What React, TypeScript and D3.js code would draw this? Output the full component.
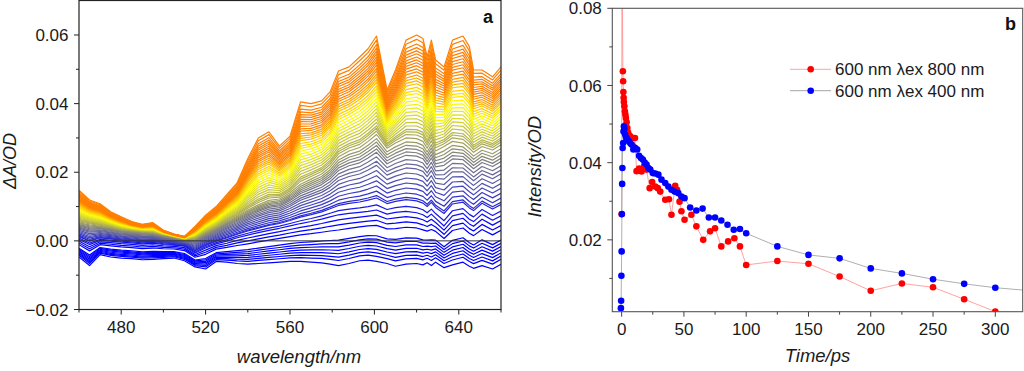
import React from 'react';
import * as d3 from 'd3';

// ---- panel a: transient spectra ----
const wavelengths = [460, 465, 470, 475, 480, 485, 490, 495, 500, 505, 510, 515, 520, 525, 530, 535, 540, 545, 550, 555, 560, 565, 570, 575, 579, 583, 588, 593, 597, 601, 606, 610, 615, 620, 623, 625, 627, 629, 633, 637, 642, 645, 647, 651, 656, 660];

// representative spectra (top orange, gray, blue, bottom blue)
const specOrange = [0.0148, 0.0119, 0.0108, 0.0085, 0.0070, 0.0056, 0.0048, 0.0053, 0.0031, 0.0020, 0.0013, 0.0042, 0.0075, 0.0100, 0.0135, 0.0170, 0.0240, 0.0300, 0.0318, 0.0276, 0.0305, 0.0405, 0.0400, 0.0408, 0.0434, 0.0495, 0.0507, 0.0536, 0.0560, 0.0597, 0.0440, 0.0498, 0.0585, 0.0600, 0.0590, 0.0536, 0.0585, 0.0527, 0.0507, 0.0585, 0.0597, 0.0566, 0.0498, 0.0498, 0.0478, 0.0507];
const specGray = [0.0055, 0.0050, 0.0045, 0.0040, 0.0033, 0.0030, 0.0027, 0.0025, 0.0018, 0.0012, 0.0005, 0.0008, 0.0025, 0.0040, 0.0058, 0.0072, 0.0090, 0.0105, 0.0118, 0.0122, 0.0140, 0.0165, 0.0180, 0.0195, 0.0215, 0.0245, 0.0262, 0.0272, 0.0290, 0.0310, 0.0270, 0.0285, 0.0300, 0.0298, 0.0290, 0.0270, 0.0292, 0.0262, 0.0275, 0.0290, 0.0285, 0.0270, 0.0258, 0.0275, 0.0265, 0.0280];
const specBlue = [0.0005, -0.0010, 0.0002, 0.0000, -0.0003, -0.0005, -0.0008, -0.0006, -0.0010, -0.0012, -0.0015, -0.0035, -0.0020, -0.0008, 0.0000, 0.0010, 0.0018, 0.0025, 0.0032, 0.0038, 0.0045, 0.0052, 0.0058, 0.0065, 0.0072, 0.0078, 0.0082, 0.0085, 0.0088, 0.0092, 0.0080, 0.0085, 0.0088, 0.0084, 0.0078, 0.0070, 0.0080, 0.0068, 0.0045, 0.0075, 0.0082, 0.0065, 0.0058, 0.0080, 0.0062, 0.0075];
const specNeg = [-0.0047, -0.0072, -0.0040, -0.0047, -0.0050, -0.0052, -0.0055, -0.0054, -0.0052, -0.0050, -0.0058, -0.0076, -0.0082, -0.0060, -0.0062, -0.0066, -0.0068, -0.0066, -0.0064, -0.0062, -0.0060, -0.0060, -0.0062, -0.0064, -0.0068, -0.0072, -0.0066, -0.0058, -0.0056, -0.0060, -0.0066, -0.0074, -0.0068, -0.0066, -0.0070, -0.0064, -0.0072, -0.0062, -0.0078, -0.0070, -0.0062, -0.0074, -0.0080, -0.0072, -0.0082, -0.0068];

// value of each recorded spectrum at 601 nm
const levels601 = [
  0.0597, 0.0585, 0.0572, 0.0562, 0.0553, 0.0545, 0.0536, 0.0528, 0.0520, 0.0512, 0.0503,
  0.0495, 0.0486, 0.0478, 0.0470,
  0.0462, 0.0452, 0.0443, 0.0435, 0.0425, 0.0415, 0.0405, 0.0395, 0.0385, 0.0375,
  0.0365, 0.0355, 0.0345, 0.0335, 0.0328,
  0.0320, 0.0310, 0.0298, 0.0288, 0.0278, 0.0268, 0.0258,
  0.0245, 0.0232, 0.0220, 0.0205, 0.0190, 0.0175, 0.0160, 0.0145, 0.0132,
  0.0125, 0.0105, 0.0090, 0.0075, 0.0060, 0.0045,
  0.0015, 0.0005, -0.0005, -0.0015, -0.0025, -0.0035, -0.0045, -0.0060,
];

const aXTicks = [480, 520, 560, 600, 640];
const aXMinor = [460, 500, 540, 580, 620, 660];
const aYTicks = [-0.02, 0, 0.02, 0.04, 0.06];
const aYMinor = [-0.01, 0.01, 0.03, 0.05];

// ---- panel b: kinetics at 600 nm ----
const redTime = [0, 0.3, 1.0, 1.2, 1.4, 1.6, 1.8, 2.2, 2.6, 3.0, 3.4, 4.0, 4.6, 5.2, 6, 7, 8, 9.5, 10.7, 12, 14, 16, 18, 20, 22.5, 24.5, 27, 29, 31, 35, 38, 40, 43, 44.5, 46.5, 48, 50.5, 56, 60, 65.5, 71, 75, 80, 85.5, 90.5, 95, 100, 125, 150, 175, 200, 225, 250, 275, 300];
const redOD = [0.0266, 0.095, 0.0637, 0.0611, 0.0583, 0.0568, 0.0557, 0.0546, 0.0533, 0.0525, 0.0516, 0.0505, 0.049, 0.0478, 0.047, 0.0468, 0.0464, 0.0442, 0.0464, 0.0378, 0.0385, 0.0377, 0.039, 0.0382, 0.0334, 0.035, 0.0338, 0.0334, 0.0325, 0.0304, 0.0305, 0.0265, 0.034, 0.033, 0.0299, 0.0274, 0.0252, 0.0265, 0.0235, 0.02, 0.0222, 0.023, 0.0183, 0.0196, 0.0204, 0.0183, 0.0135, 0.0145, 0.0138, 0.0105, 0.0068, 0.0087, 0.0077, 0.0046, 0.0014];
const blueTime = [-0.6, -0.4, -0.2, 0, 0.2, 0.4, 0.6, 0.8, 1.2, 1.5, 1.8, 2.2, 2.8, 3.5, 4.2, 5, 6, 7, 8, 9.4, 11, 12.5, 14, 15.5, 17, 18.5, 20, 21.5, 23, 25, 27, 29.5, 32, 35, 37.5, 40, 42.5, 45.5, 48, 50.5, 55, 60, 65, 70, 75, 80, 85, 90, 95, 100, 125, 150, 175, 200, 225, 250, 275, 300, 325];
const blueOD = [0.0023, 0.0042, 0.0107, 0.017, 0.0267, 0.0345, 0.0386, 0.0438, 0.0451, 0.0481, 0.0494, 0.0488, 0.0473, 0.0466, 0.0462, 0.0458, 0.0455, 0.045, 0.0447, 0.0434, 0.0438, 0.0434, 0.0418, 0.0412, 0.0408, 0.04, 0.0395, 0.0386, 0.0382, 0.0373, 0.0372, 0.0369, 0.0356, 0.0347, 0.0338, 0.033, 0.0325, 0.0321, 0.0312, 0.0308, 0.0284, 0.0276, 0.0281, 0.0258, 0.0258, 0.025, 0.0239, 0.0226, 0.0228, 0.0217, 0.0183, 0.0161, 0.0152, 0.0126, 0.0113, 0.0098, 0.0086, 0.0076, 0.0069];

const bXTicks = [0, 50, 100, 150, 200, 250, 300];
const bXMinor = [25, 75, 125, 175, 225, 275];
const bYTicks = [0.02, 0.04, 0.06, 0.08];
const bYMinor = [0.01, 0.03, 0.05, 0.07];

const legendItems = [
  { label: '600 nm \u03bbex 800 nm', dot: '#ff0000', line: '#ff9a9a' },
  { label: '600 nm \u03bbex 400 nm', dot: '#0000ff', line: '#9a9a9a' },
];

const FONT = "'Liberation Sans', Arial, sans-serif";

const A = { left: 79, right: 501, top: 0, bottom: 309.5 };
const B = { left: 612.3, right: 1022.7, top: 8.3, bottom: 311.7 };

const i601 = wavelengths.indexOf(601);
const templates = [specNeg, specBlue, specGray, specOrange].map(v => ({ v, ref: v[i601] }));

function blend(level: number): number[] {
  let k = 0;
  while (k < templates.length - 2 && level > templates[k + 1].ref) k++;
  const a = templates[k], b = templates[k + 1];
  const f = (level - a.ref) / (b.ref - a.ref);
  return a.v.map((val, i) => val + (b.v[i] - val) * f);
}

const App: React.FC = () => {
  const ax = d3.scaleLinear().domain([460, 660]).range([A.left, A.right]);
  const ay = d3.scaleLinear().domain([-0.02, 0.0702]).range([A.bottom, A.top]);
  const bx = d3.scaleLinear().domain([-7.5, 322]).range([B.left, B.right]);
  const by = d3.scaleLinear().domain([0.00138, 0.08]).range([B.bottom, B.top]);

  const color = d3.scaleLinear<string>()
    .domain([0.0065, 0.027, 0.042, 0.0505])
    .range(['#0000ff', '#808080', '#ffff00', '#ff7f00'])
    .clamp(true);

  const specLine = d3.line<number>().x((_, i) => ax(wavelengths[i])).y(d => ay(d));
  const spectra = [...levels601].sort((p, q) => p - q).map(l => ({ l, d: specLine(blend(l)) || '' }));

  const redPts = redTime.map((t, i) => [t, redOD[i]] as [number, number]);
  const bluePts = blueTime.map((t, i) => [t, blueOD[i]] as [number, number]);
  const kin = d3.line<[number, number]>().x(d => bx(d[0])).y(d => by(d[1]));
  const fmt = d3.format('.2f');

  const tickText = { fontFamily: FONT, fontSize: 17, fill: '#1a1a1a' } as const;

  return (
    <svg width={1024} height={371} style={{ position: 'absolute', left: 0, top: 0, background: '#fff' }}>
      <defs>
        <clipPath id="clipA"><rect x={A.left} y={A.top} width={A.right - A.left} height={A.bottom - A.top} /></clipPath>
        <clipPath id="clipB"><rect x={B.left} y={B.top} width={B.right - B.left} height={B.bottom - B.top} /></clipPath>
      </defs>

      {/* panel a */}
      <g clipPath="url(#clipA)">
        {spectra.map((s, i) => (
          <path key={i} d={s.d} fill="none" stroke={color(s.l)} strokeWidth={1.2} strokeLinejoin="round" />
        ))}
        <line x1={A.left} x2={A.right} y1={ay(0)} y2={ay(0)} stroke="#333" strokeWidth={1} />
      </g>
      <rect x={A.left} y={A.top + 0.5} width={A.right - A.left} height={A.bottom - A.top - 0.5} fill="none" stroke="#222" strokeWidth={1.2} />
      {aYTicks.map(t => (
        <g key={'ay' + t}>
          <line x1={A.left - 5} x2={A.left} y1={ay(t)} y2={ay(t)} stroke="#222" />
          <text x={A.left - 10.5} y={ay(t)} dy="0.36em" textAnchor="end" {...tickText}>{fmt(t)}</text>
        </g>
      ))}
      {aYMinor.map(t => <line key={'aym' + t} x1={A.left - 3} x2={A.left} y1={ay(t)} y2={ay(t)} stroke="#222" />)}
      {aXTicks.map(t => (
        <g key={'ax' + t}>
          <line x1={ax(t)} x2={ax(t)} y1={A.bottom} y2={A.bottom + 5} stroke="#222" />
          <text x={ax(t)} y={A.bottom + 23.5} textAnchor="middle" {...tickText}>{t}</text>
        </g>
      ))}
      {aXMinor.map(t => <line key={'axm' + t} x1={ax(t)} x2={ax(t)} y1={A.bottom} y2={A.bottom + 3} stroke="#222" />)}
      <text x={299} y={363} textAnchor="middle" fontFamily={FONT} fontSize={18.5} fontStyle="italic" fill="#1a1a1a">wavelength/nm</text>
      <text transform="translate(16,161) rotate(-90)" textAnchor="middle" fontFamily={FONT} fontSize={18} fontStyle="italic" fill="#1a1a1a">ΔA/OD</text>
      <text x={483} y={23} fontFamily={FONT} fontSize={18} fontWeight="bold" fill="#111">a</text>

      {/* panel b */}
      <g clipPath="url(#clipB)">
        <path d={kin(redPts) || ''} fill="none" stroke="#ff8a8a" strokeWidth={0.8} />
        <path d={kin(bluePts) || ''} fill="none" stroke="#9a9a9a" strokeWidth={0.8} />
        {redPts.map((d, i) => <circle key={'r' + i} cx={bx(d[0])} cy={by(d[1])} r={3.3} fill="#ff0000" />)}
        {bluePts.map((d, i) => <circle key={'b' + i} cx={bx(d[0])} cy={by(d[1])} r={3.3} fill="#0000ff" />)}
      </g>
      <rect x={B.left} y={B.top} width={B.right - B.left} height={B.bottom - B.top} fill="none" stroke="#555" strokeWidth={1.1} />
      {bYTicks.map(t => (
        <g key={'by' + t}>
          <line x1={B.left - 5} x2={B.left} y1={by(t)} y2={by(t)} stroke="#444" />
          <text x={B.left - 10.5} y={by(t)} dy="0.36em" textAnchor="end" {...tickText}>{fmt(t)}</text>
        </g>
      ))}
      {bYMinor.map(t => <line key={'bym' + t} x1={B.left - 3} x2={B.left} y1={by(t)} y2={by(t)} stroke="#444" />)}
      {bXTicks.map(t => (
        <g key={'bx' + t}>
          <line x1={bx(t)} x2={bx(t)} y1={B.bottom} y2={B.bottom + 5} stroke="#444" />
          <text x={bx(t)} y={B.bottom + 23.5} textAnchor="middle" {...tickText}>{t}</text>
        </g>
      ))}
      {bXMinor.map(t => <line key={'bxm' + t} x1={bx(t)} x2={bx(t)} y1={B.bottom} y2={B.bottom + 3} stroke="#444" />)}
      <text x={817.5} y={362} textAnchor="middle" fontFamily={FONT} fontSize={18.5} fontStyle="italic" fill="#1a1a1a">Time/ps</text>
      <text transform="translate(541,166.7) rotate(-90)" textAnchor="middle" fontFamily={FONT} fontSize={18.5} fontStyle="italic" fill="#1a1a1a">Intensity/OD</text>
      <text x={1005} y={30} fontFamily={FONT} fontSize={18} fontWeight="bold" fill="#111">b</text>

      {legendItems.map((it, i) => {
        const y = 69.3 + i * 21.4;
        return (
          <g key={it.label}>
            <line x1={790} x2={831} y1={y} y2={y} stroke={it.line} strokeWidth={0.9} />
            <circle cx={810.7} cy={y} r={3.3} fill={it.dot} />
            <text x={835} y={y} dy="0.36em" {...tickText}>{it.label}</text>
          </g>
        );
      })}
    </svg>
  );
};

export default App;
